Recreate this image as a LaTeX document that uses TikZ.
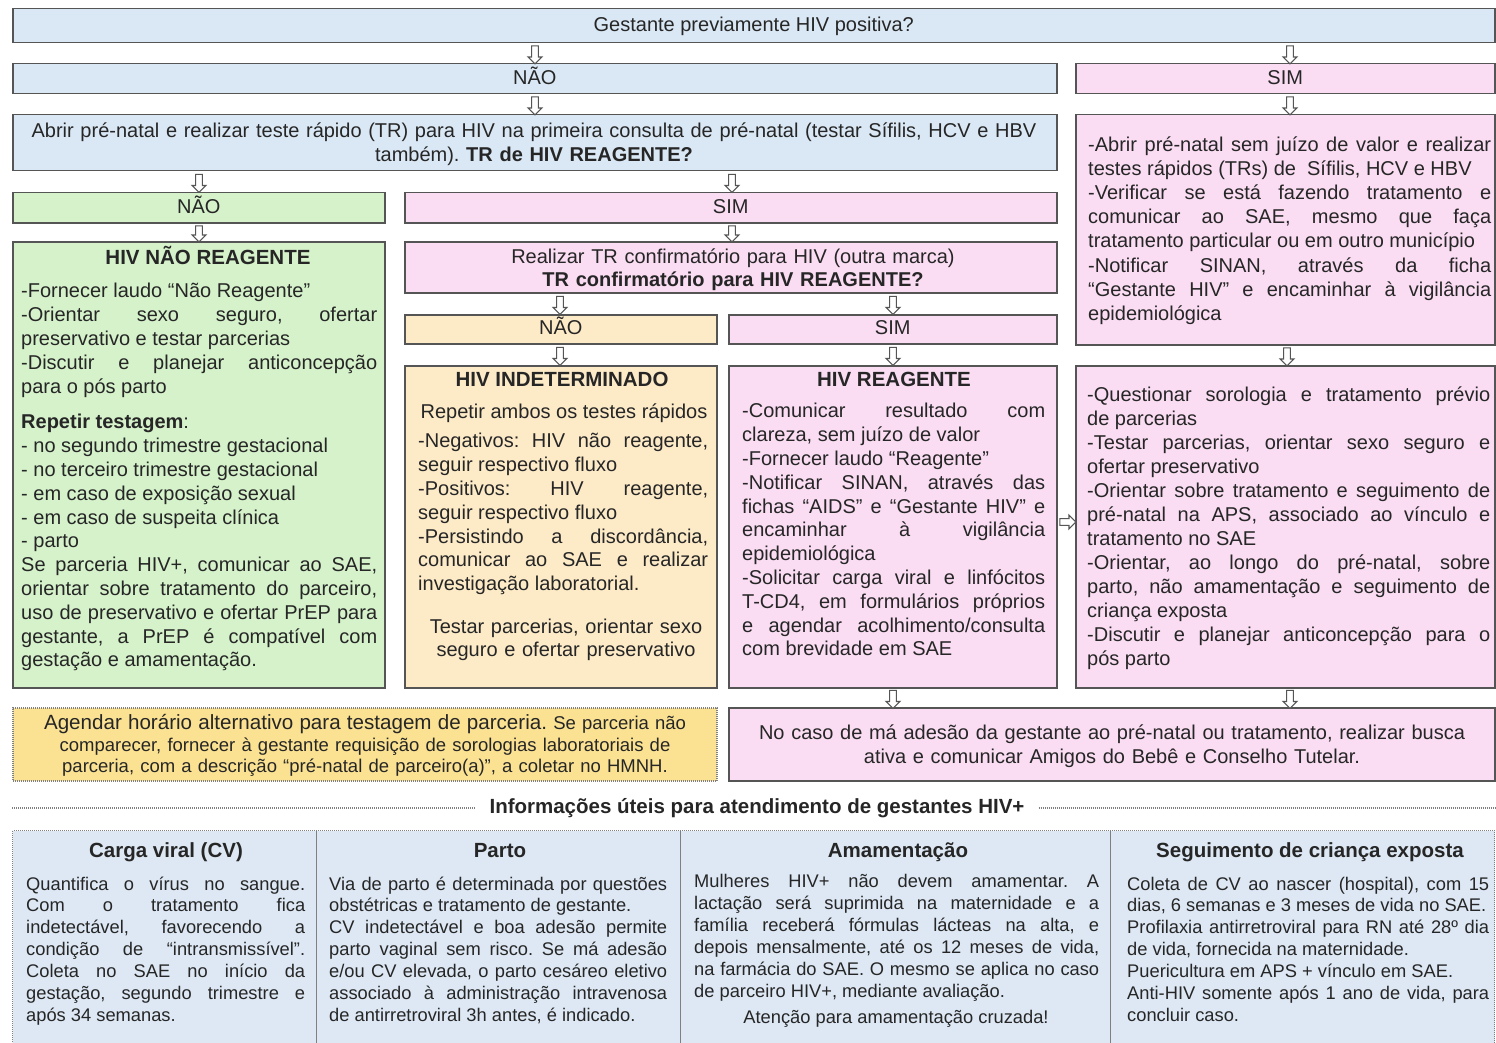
\documentclass[tikz,border=0pt]{standalone}
\usepackage{fontspec}
\setmainfont{Liberation Sans}
\usetikzlibrary{shapes.arrows}
\setlength{\parindent}{0pt}
\frenchspacing
\tolerance=10000 \hbadness=10000 \hyphenpenalty=10000 \exhyphenpenalty=10000
\definecolor{bluef}{HTML}{DAE8F5}
\definecolor{pinkf}{HTML}{FADDF3}
\definecolor{greenf}{HTML}{D5F2CA}
\definecolor{peachf}{HTML}{FDEBC8}
\definecolor{yellowf}{HTML}{FBE292}
\definecolor{infof}{HTML}{DDE8F4}
\definecolor{edge}{HTML}{555555}
\definecolor{txt}{HTML}{262626}
\newcommand\fM{\fontsize{20}{23.8}\selectfont}
\newcommand\fH{\fontsize{20.5}{24}\selectfont\bfseries}
\newcommand\fI{\fontsize{18.3}{21.9}\selectfont}
\newcommand\fY{\fontsize{18.5}{21.5}\selectfont}
\begin{document}
\begin{tikzpicture}[x=1pt,y=-1pt,
  box/.style={draw=edge, line width=1.5pt, inner sep=0pt, anchor=north west, text=txt, font=\fM, text height=15pt, text depth=4pt},
  harrow/.style={single arrow, draw=edge, fill=white, line width=1.1pt, inner xsep=0pt, inner ysep=2.8pt, single arrow head extend=3.6pt, minimum height=18pt, anchor=center},
  para/.style={inner sep=0pt, anchor=north west, align=justify, text=txt, font=\fM},
  ctr/.style={inner sep=0pt, anchor=north, align=center, text=txt, font=\fM},
  head/.style={inner sep=0pt, anchor=base, text=txt, font=\fH},
  ipara/.style={para, font=\fI},
  cell/.style={draw=gray, dash pattern=on 1pt off 1pt, line width=1.2pt, fill=infof, inner sep=0pt, anchor=north west},
  sepline/.style={draw=gray, dash pattern=on 1pt off 1pt, line width=1.2pt}
]
\fill[white] (0,0) rectangle (1496,1043);
\useasboundingbox (0,0) rectangle (1496,1043);

% columns for arrows
\coordinate (xa) at (535,0);
\coordinate (xb) at (1290,0);
\coordinate (xc) at (199,0);
\coordinate (xd) at (732,0);
\coordinate (xe) at (560,0);
\coordinate (xf) at (893,0);
\coordinate (xg) at (1287,0);
\coordinate (yh) at (0,522);

% boxes
\node[box, fill=bluef, minimum width=1482pt, minimum height=34pt] (top) at (12,8) {Gestante previamente HIV positiva?};
\node[box, fill=bluef, minimum width=1044pt, minimum height=30pt] (nao1) at (12,63) {NÃO};
\node[box, fill=pinkf, minimum width=419pt, minimum height=30pt] (sim1) at (1075,63) {SIM};
\node[box, fill=bluef, minimum width=1044pt, minimum height=56pt] (abrir) at (12,114) {};
\node[box, fill=pinkf, minimum width=419pt, minimum height=230pt] (rt1) at (1075,114) {};
\node[box, fill=greenf, minimum width=372pt, minimum height=30pt] (nao2) at (12,192) {NÃO};
\node[box, fill=pinkf, minimum width=652pt, minimum height=30pt] (sim2) at (404,192) {SIM};
\node[box, fill=greenf, minimum width=372pt, minimum height=446pt] (green) at (12,241) {};
\node[box, fill=pinkf, minimum width=652pt, minimum height=51pt] (conf) at (404,241) {};
\node[box, fill=peachf, minimum width=312pt, minimum height=29pt] (nao3) at (404,314) {NÃO};
\node[box, fill=pinkf, minimum width=328pt, minimum height=29pt] (sim3) at (728,314) {SIM};
\node[box, fill=peachf, minimum width=312pt, minimum height=322pt] (indet) at (404,365) {};
\node[box, fill=pinkf, minimum width=328pt, minimum height=322pt] (reag) at (728,365) {};
\node[box, fill=pinkf, minimum width=419pt, minimum height=322pt] (rt2) at (1075,365) {};
\node[box, fill=yellowf, draw=gray, dash pattern=on 1pt off 1pt, minimum width=704pt, minimum height=73pt] (ybot) at (12,707) {};
\node[box, fill=pinkf, minimum width=766pt, minimum height=73pt] (pbot) at (728,707) {};

% arrows
\path (top.south -| xa) -- (nao1.north -| xa) node[harrow, midway, rotate=-90] (a1) {};
\path (top.south -| xb) -- (sim1.north -| xb) node[harrow, midway, rotate=-90] (a2) {};
\path (nao1.south -| xa) -- (abrir.north -| xa) node[harrow, midway, rotate=-90] (a3) {};
\path (sim1.south -| xb) -- (rt1.north -| xb) node[harrow, midway, rotate=-90] (a4) {};
\path (abrir.south -| xc) -- (nao2.north -| xc) node[harrow, midway, rotate=-90] (a5) {};
\path (abrir.south -| xd) -- (sim2.north -| xd) node[harrow, midway, rotate=-90] (a6) {};
\path (nao2.south -| xc) -- (green.north -| xc) node[harrow, midway, rotate=-90, minimum height=16pt] (a7) {};
\path (sim2.south -| xd) -- (conf.north -| xd) node[harrow, midway, rotate=-90, minimum height=16pt] (a8) {};
\path (conf.south -| xe) -- (nao3.north -| xe) node[harrow, midway, rotate=-90] (a9) {};
\path (conf.south -| xf) -- (sim3.north -| xf) node[harrow, midway, rotate=-90] (a10) {};
\path (nao3.south -| xe) -- (indet.north -| xe) node[harrow, midway, rotate=-90] (a11) {};
\path (sim3.south -| xf) -- (reag.north -| xf) node[harrow, midway, rotate=-90] (a12) {};
\path (rt1.south -| xg) -- (rt2.north -| xg) node[harrow, midway, rotate=-90] (a13) {};
\path (reag.south -| xf) -- (pbot.north -| xf) node[harrow, midway, rotate=-90] (a14) {};
\path (rt2.south -| xb) -- (pbot.north -| xb) node[harrow, midway, rotate=-90] (a15) {};
\path (reag.east |- yh) -- (rt2.west |- yh) node[harrow, midway, minimum height=16pt] (a16) {};

% texts in two-line boxes
\node[ctr, text width=1040pt] (tabrir) at (534,121) {\strut Abrir pré-natal e realizar teste rápido (TR) para HIV na primeira consulta de pré-natal (testar Sífilis, HCV e HBV\\ também). \textbf{TR de HIV REAGENTE?}};
\node[ctr, text width=640pt, font=\fontsize{20}{23}\selectfont] (tconf) at (733,247) {\strut Realizar TR confirmatório para HIV (outra marca)\\ \textbf{TR confirmatório para HIV REAGENTE?}};

% green box
\node[head] (hgreen) at (208,264) {HIV NÃO REAGENTE};
\node[para, text width=356pt] (g1) at (21,281) {\strut -Fornecer laudo “Não Reagente”\par
-Orientar sexo seguro, ofertar\linebreak preservativo e testar parcerias\par
-Discutir e planejar anticoncepção\linebreak para o pós parto};
\node[para, text width=356pt] (g2) at (21,412) {\strut\textbf{Repetir testagem}:\par
- no segundo trimestre gestacional\par
- no terceiro trimestre gestacional\par
- em caso de exposição sexual\par
- em caso de suspeita clínica\par
- parto\par
Se parceria HIV+, comunicar ao SAE,\linebreak orientar sobre tratamento do parceiro,\linebreak uso de preservativo e ofertar PrEP para\linebreak gestante, a PrEP é compatível com\linebreak gestação e amamentação.};

% indeterminado
\node[head] (hindet) at (562,386) {HIV INDETERMINADO};
\node[head, font=\fM] (rep) at (564,418) {Repetir ambos os testes rápidos};
\node[para, text width=290pt] (i1) at (418,431) {\strut -Negativos: HIV não reagente,\linebreak seguir respectivo fluxo\par
-Positivos: HIV reagente,\linebreak seguir respectivo fluxo\par
-Persistindo a discordância,\linebreak comunicar ao SAE e realizar\linebreak investigação laboratorial.};
\node[ctr, text width=300pt, font=\fontsize{20}{23}\selectfont] (i2) at (566,617) {\strut Testar parcerias, orientar sexo\\ seguro e ofertar preservativo};

% reagente
\node[head] (hreag) at (894,386) {HIV REAGENTE};
\node[para, text width=303pt] (r1) at (742,401) {\strut -Comunicar resultado com\linebreak clareza, sem juízo de valor\par
-Fornecer laudo “Reagente”\par
-Notificar SINAN, através das\linebreak fichas “AIDS” e “Gestante HIV” e\linebreak encaminhar à vigilância\linebreak epidemiológica\par
-Solicitar carga viral e linfócitos\linebreak T-CD4, em formulários próprios\linebreak e agendar acolhimento/consulta\linebreak com brevidade em SAE};

% right boxes
\node[para, text width=403pt, font=\fontsize{20}{24.2}\selectfont] (rt1t) at (1088,134) {\strut -Abrir pré-natal sem juízo de valor e realizar\linebreak testes rápidos (TRs) de \ Sífilis, HCV e HBV\par
-Verificar se está fazendo tratamento e\linebreak comunicar ao SAE, mesmo que faça\linebreak tratamento particular ou em outro município\par
-Notificar SINAN, através da ficha\linebreak “Gestante HIV” e encaminhar à vigilância\linebreak epidemiológica};
\node[para, text width=403pt, font=\fontsize{20}{24}\selectfont] (rt2t) at (1087,384) {\strut -Questionar sorologia e tratamento prévio\linebreak de parcerias\par
-Testar parcerias, orientar sexo seguro e\linebreak ofertar preservativo\par
-Orientar sobre tratamento e seguimento de\linebreak pré-natal na APS, associado ao vínculo e\linebreak tratamento no SAE\par
-Orientar, ao longo do pré-natal, sobre\linebreak parto, não amamentação e seguimento de\linebreak criança exposta\par
-Discutir e planejar anticoncepção para o\linebreak pós parto};

% bottom boxes
\node[ctr, text width=700pt, font=\fY] (ybt) at (365,714.5) {\strut{\fontsize{20.6}{21.5}\selectfont Agendar horário alternativo para testagem de parceria.} Se parceria não\\ comparecer, fornecer à gestante requisição de sorologias laboratoriais de\\ parceria, com a descrição “pré-natal de parceiro(a)”, a coletar no HMNH.};
\node[ctr, text width=760pt] (pbt) at (1112,723) {\strut No caso de má adesão da gestante ao pré-natal ou tratamento, realizar busca\\ ativa e comunicar Amigos do Bebê e Conselho Tutelar.};

% info section
\node[inner sep=0pt, text=txt, font=\fH, text height=15pt, text depth=4pt] (info) at (757,808) {Informações úteis para atendimento de gestantes HIV+};
\node[cell, minimum width=304pt, minimum height=222pt] (c1) at (12,830) {};
\node[cell, minimum width=364pt, minimum height=222pt] (c2) at (316,830) {};
\node[cell, minimum width=430pt, minimum height=222pt] (c3) at (680,830) {};
\node[cell, minimum width=384pt, minimum height=222pt] (c4) at (1110,830) {};
\draw[sepline] (c1.north west |- info.center) -- ([xshift=-14pt]info.west);
\draw[sepline] ([xshift=14pt]info.east) -- (c4.north east |- info.center);

\node[head] (hc1) at (166,857) {Carga viral (CV)};
\node[head] (hc2) at (500,857) {Parto};
\node[head] (hc3) at (898,857) {Amamentação};
\node[head] (hc4) at (1310,857) {Seguimento de criança exposta};

\node[ipara, text width=279pt] (t1) at (26,874.5) {\strut Quantifica o vírus no sangue.\linebreak Com o tratamento fica\linebreak indetectável, favorecendo a\linebreak condição de “intransmissível”.\linebreak Coleta no SAE no início da\linebreak gestação, segundo trimestre e\linebreak após 34 semanas.};
\node[ipara, text width=338pt] (t2) at (329,874.5) {\strut Via de parto é determinada por questões\linebreak obstétricas e tratamento de gestante.\par
CV indetectável e boa adesão permite\linebreak parto vaginal sem risco. Se má adesão\linebreak e/ou CV elevada, o parto cesáreo eletivo\linebreak associado à administração intravenosa\linebreak de antirretroviral 3h antes, é indicado.};
\node[ipara, text width=405pt, font=\fontsize{18.3}{22}\selectfont] (t3) at (694,871.5) {\strut Mulheres HIV+ não devem amamentar. A\linebreak lactação será suprimida na maternidade e a\linebreak família receberá fórmulas lácteas na alta, e\linebreak depois mensalmente, até os 12 meses de vida,\linebreak na farmácia do SAE. O mesmo se aplica no caso\linebreak de parceiro HIV+, mediante avaliação.};
\node[head, font=\fI] (t3b) at (896,1023) {Atenção para amamentação cruzada!};
\node[ipara, text width=362pt] (t4) at (1127,874.5) {\strut Coleta de CV ao nascer (hospital), com 15\linebreak dias, 6 semanas e 3 meses de vida no SAE.\par
Profilaxia antirretroviral para RN até 28º dia\linebreak de vida, fornecida na maternidade.\par
Puericultura em APS + vínculo em SAE.\par
Anti-HIV somente após 1 ano de vida, para\linebreak concluir caso.};
\end{tikzpicture}
\end{document}
